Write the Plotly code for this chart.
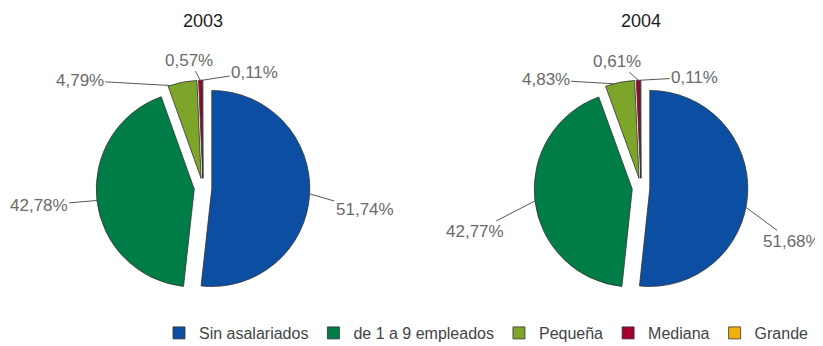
import math
import plotly.graph_objects as go

# ---------------- data ----------------
years = ["2003", "2004"]
categories = ["Sin asalariados", "de 1 a 9 empleados", "Pequeña", "Mediana", "Grande"]
values_2003 = [51.74, 42.78, 4.79, 0.57, 0.11]
values_2004 = [51.68, 42.77, 4.83, 0.61, 0.11]
label_2003 = ["51,74%", "42,78%", "4,79%", "0,57%", "0,11%"]
label_2004 = ["51,68%", "42,77%", "4,83%", "0,61%", "0,11%"]

# ---------------- style / layout ----------------
OFF = 8                      # page (body) margin of the html page
W, H = 823 - OFF, 346 - OFF  # figure size so it fits the window
colors = ["#0c4fa2", "#007c46", "#7ca52a", "#a3002f", "#f0b20a"]
pulls = [0.09, 0.09, 0.10, 0.10, 0.10]
centers_screen = [(203, 188), (641, 188)]
radius = 98
box = 2 * radius * (1 + max(pulls))
title_y_screen = 21
# leader anchor fraction within slice, and text offset (px) from anchor
anchor_frac = [[0.5, 0.5, 0.1, 0.5, 0.5], [0.54, 0.5, 0.3, 0.5, 0.5]]
text_off = [
    [(55, 16), (-58, 5), (-90, -5), (-11, -20), (52, -8)],
    [(46, 34), (-60, 31), (-68, -4), (-21, -19), (54, -3)],
]

series = [values_2003, values_2004]
labels_txt = [label_2003, label_2004]

fig = go.Figure()
annotations = []
for k, vals in enumerate(series):
    cx = centers_screen[k][0] - OFF
    cy = centers_screen[k][1] - OFF
    dom_x = [(cx - box / 2) / W, (cx + box / 2) / W]
    dom_y = [1 - (cy + box / 2) / H, 1 - (cy - box / 2) / H]
    fig.add_trace(go.Pie(
        labels=categories, values=vals, sort=False, direction="clockwise",
        rotation=0, pull=pulls, textinfo="none", hoverinfo="label+percent",
        marker=dict(colors=colors, line=dict(color="#333333", width=0.8)),
        domain=dict(x=dom_x, y=dom_y), showlegend=(k == 0),
        name=years[k],
    ))
    r = box / (2 + 2 * max(pulls))
    total = sum(vals)
    start = 0.0
    for i, v in enumerate(vals):
        span = v / total * 360
        ang = math.radians(start + span * anchor_frac[k][i])
        R = r * (1 + pulls[i])
        px = cx + R * math.sin(ang)
        py = cy - R * math.cos(ang)
        start += span
        annotations.append(dict(
            x=px / W, y=1 - py / H, xref="paper", yref="paper",
            text=labels_txt[k][i], showarrow=True, arrowhead=0,
            arrowwidth=0.9, arrowcolor="#444444", standoff=0,
            ax=text_off[k][i][0], ay=text_off[k][i][1],
            font=dict(size=17, color="#6a6a6a"),
        ))
    annotations.append(dict(
        x=cx / W, y=1 - (title_y_screen - OFF) / H, xref="paper", yref="paper",
        xanchor="center", yanchor="middle", text=years[k],
        showarrow=False, font=dict(size=18, color="#1e1e1e"),
    ))

fig.update_layout(
    width=W, height=H,
    margin=dict(l=0, r=0, t=0, b=0, pad=0, autoexpand=False),
    paper_bgcolor="white", plot_bgcolor="white",
    font=dict(family="Liberation Sans, Arial, sans-serif"),
    annotations=annotations,
    legend=dict(orientation="h", x=(814 - OFF) / W, xanchor="right",
                y=1 - (333 - OFF) / H, yanchor="middle",
                font=dict(size=16, color="#444444"),
                bgcolor="rgba(0,0,0,0)", itemwidth=30),
)

fig.write_html("out.html")
